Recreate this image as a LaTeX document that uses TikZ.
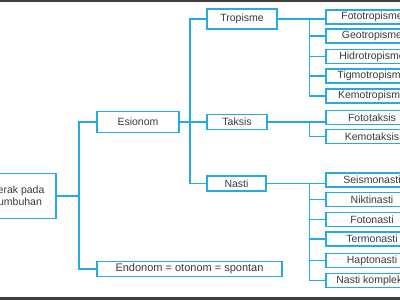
\documentclass[tikz,border=0pt]{standalone}
\usepackage{fontspec}
\setmainfont{Liberation Sans}
\usepackage{tikz}
\usetikzlibrary{positioning, calc}
\definecolor{lineblue}{RGB}{38,170,226}
\definecolor{textgray}{RGB}{58,58,58}
\definecolor{bargray}{RGB}{62,62,62}

\begin{document}
\begin{tikzpicture}[x=1pt, y=-1pt,
        box/.style={draw=lineblue, line width=1.6pt, fill=white, align=center,
                    text=textgray, font=\fontsize{10.5}{12}\selectfont, inner sep=0pt},
        leaf/.style={box, minimum width=92pt, minimum height=14pt},
        link/.style={draw=lineblue, line width=1.6pt},
    ]
    \useasboundingbox (0,0) rectangle (400,300);
    \clip (0,0) rectangle (400,300);

    % ---- Frame bars ----
    \fill[bargray] (0,0) rectangle (400,1.5);
    \fill[bargray] (0,297) rectangle (400,300);

    % ---- Trunk positions ----
    \coordinate (trunkA) at (79, 0);
    \coordinate (trunkB) at (190, 0);
    \coordinate (trunkC) at (309.5, 0);

    % ---- Root and first level ----
    \node[box, minimum width=78pt, minimum height=45pt] (root) at (17, 196)
        {Gerak pada\\Tumbuhan};
    \node[box, minimum width=82pt, minimum height=21pt] (esionom) at (138, 122) {Esionom};
    \node[box, minimum width=185pt, minimum height=15pt,
          font=\fontsize{11}{13}\selectfont] (endonom) at (189.5, 269)
        {Endonom = otonom = spontan};

    \draw[link] (root.east) -- (root.east -| trunkA);
    \draw[link] (esionom.west) -- (esionom.west -| trunkA) |- (endonom.west);

    % ---- Second level ----
    \node[box, minimum width=70pt, minimum height=20pt] (tropisme) at (242, 19) {Tropisme};
    \node[box, minimum width=60pt, minimum height=15pt] (taksis) at (237, 122) {Taksis};
    \node[box, minimum width=59pt, minimum height=15pt] (nasti) at (236.5, 183.5) {Nasti};

    \draw[link] (esionom.east) -- (taksis.west);
    \draw[link] (tropisme.west) -- (tropisme.west -| trunkB) |- (nasti.west);

    % ---- Tropisme leaves ----
    \node[leaf] (fototropisme) at (372, 17) {Fototropisme};
    \node[leaf] (geotropisme) at (372, 36) {Geotropisme};
    \node[leaf] (hidrotropisme) at (372, 56.5) {Hidrotropisme};
    \node[leaf] (tigmotropisme) at (372, 76) {Tigmotropisme};
    \node[leaf] (kemotropisme) at (372, 96) {Kemotropisme};

    \draw[link] (tropisme.east) -- (tropisme.east -| fototropisme.west);
    \draw[link] (tropisme.east -| trunkC) |- (kemotropisme.west);
    \draw[link] (geotropisme.west -| trunkC) -- (geotropisme.west);
    \draw[link] (hidrotropisme.west -| trunkC) -- (hidrotropisme.west);
    \draw[link] (tigmotropisme.west -| trunkC) -- (tigmotropisme.west);

    % ---- Taksis leaves ----
    \node[leaf] (fototaksis) at (372, 117.5) {Fototaksis};
    \node[leaf] (kemotaksis) at (372, 136.5) {Kemotaksis};

    \draw[link] (taksis.east) -- (taksis.east -| fototaksis.west);
    \draw[link] (taksis.east -| trunkC) |- (kemotaksis.west);

    % ---- Nasti leaves ----
    \node[leaf] (seismonasti) at (372, 180) {Seismonasti};
    \node[leaf] (niktinasti) at (372, 199.5) {Niktinasti};
    \node[leaf] (fotonasti) at (372, 219.5) {Fotonasti};
    \node[leaf] (termonasti) at (372, 239) {Termonasti};
    \node[leaf] (haptonasti) at (372, 260.5) {Haptonasti};
    \node[leaf] (nastikompleks) at (372, 280.5) {Nasti kompleks};

    \draw[link] (nasti.east) -- (nasti.east -| seismonasti.west);
    \draw[link] (nasti.east -| trunkC) |- (nastikompleks.west);
    \draw[link] (niktinasti.west -| trunkC) -- (niktinasti.west);
    \draw[link] (fotonasti.west -| trunkC) -- (fotonasti.west);
    \draw[link] (termonasti.west -| trunkC) -- (termonasti.west);
    \draw[link] (haptonasti.west -| trunkC) -- (haptonasti.west);

    \end{tikzpicture}
\end{document}
